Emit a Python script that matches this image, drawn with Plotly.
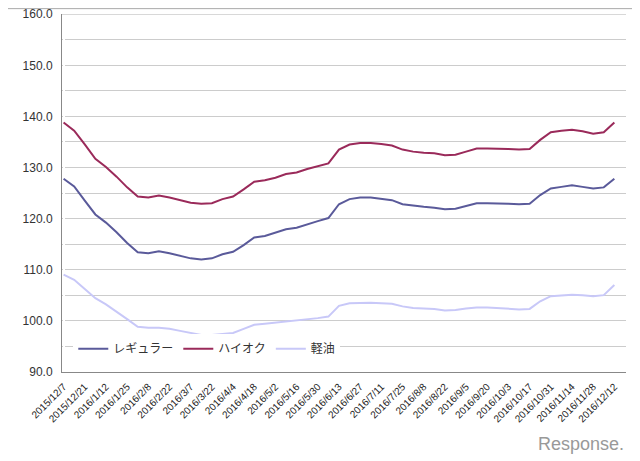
import plotly.graph_objects as go

labels = ["2015/12/7","2015/12/21","2016/1/12","2016/1/25","2016/2/8","2016/2/22","2016/3/7","2016/3/22",
          "2016/4/4","2016/4/18","2016/5/2","2016/5/16","2016/5/30","2016/6/13","2016/6/27","2016/7/11",
          "2016/7/25","2016/8/8","2016/8/22","2016/9/5","2016/9/20","2016/10/3","2016/10/17","2016/10/31",
          "2016/11/14","2016/11/28","2016/12/12"]

regular = [127.8,126.3,123.5,120.8,119.2,117.3,115.2,113.4,113.2,113.6,113.2,112.7,112.2,112.0,112.2,113.0,
           113.5,114.8,116.3,116.6,117.2,117.9,118.2,118.9,119.5,120.1,122.8,123.8,124.1,124.1,123.9,123.6,
           122.8,122.5,122.3,122.1,121.8,121.9,122.5,123.0,123.0,123.0,122.9,122.8,122.9,124.6,125.9,126.2,
           126.5,126.2,125.9,126.1,127.8]
highoctane = [138.8,137.2,134.5,131.7,130.1,128.2,126.1,124.3,124.1,124.5,124.1,123.6,123.1,122.9,123.0,123.8,
              124.3,125.7,127.2,127.5,128.0,128.7,129.0,129.7,130.2,130.8,133.5,134.5,134.8,134.8,134.6,134.3,
              133.5,133.1,132.9,132.8,132.4,132.5,133.1,133.7,133.7,133.7,133.6,133.5,133.6,135.4,136.9,137.2,
              137.4,137.1,136.6,136.9,138.8]
diesel = [109.0,108.0,106.2,104.4,103.2,101.8,100.3,98.8,98.6,98.6,98.4,98.0,97.6,97.2,97.2,97.4,97.6,98.4,
          99.2,99.4,99.6,99.9,100.0,100.3,100.5,100.8,102.9,103.4,103.5,103.5,103.4,103.3,102.8,102.5,102.4,
          102.3,102.0,102.1,102.4,102.6,102.6,102.5,102.3,102.2,102.3,103.8,104.8,104.9,105.1,105.0,104.8,
          105.0,107.0]

x = list(range(len(regular)))
tickvals = [2 * i for i in range(len(labels))]

fig = go.Figure()
for name, ys, col in [("レギュラー", regular, "#5A5A9A"), ("ハイオク", highoctane, "#9A2A5A"), ("軽油", diesel, "#C8C8F8")]:
    fig.add_trace(go.Scatter(x=x, y=ys, name=name, mode="lines", line=dict(color=col, width=2)))

fig.update_layout(
    width=640, height=461, paper_bgcolor="white", plot_bgcolor="white",
    margin=dict(l=54, r=22, t=6, b=97),
    font=dict(family="Liberation Sans, DejaVu Sans", size=12, color="#333"),
    legend=dict(orientation="h", x=0.02, y=0.065, xanchor="left", yanchor="middle",
                bgcolor="white", tracegroupgap=0, itemwidth=30,
                font=dict(size=12, family="Noto Sans CJK JP")),
    shapes=[dict(type="rect", xref="paper", yref="paper", x0=-0.106, x1=1.03, y0=-0.255, y1=1.015,
                 line=dict(color="#AAAAAA", width=1)),
            dict(type="line", xref="paper", yref="y", x0=0, x1=1, y0=160, y1=160,
                 line=dict(color="#CCCCCC", width=1))],
    annotations=[dict(text="Response.", xref="paper", yref="paper", x=1.0, y=-0.2, xanchor="right",
                      yanchor="middle", showarrow=False, font=dict(size=18, color="#999999"))],
)
fig.update_yaxes(range=[89.95, 160.05], tickvals=list(range(90, 161, 10)), tickformat=".1f",
                 gridcolor="#CCCCCC", showline=True, linecolor="#888888", ticks="outside", ticklen=6,
                 tickcolor="white", automargin=False, ticklabeloverflow="allow",
                 minor=dict(tickvals=list(range(95, 160, 10)), showgrid=True, gridcolor="#CCCCCC"), zeroline=False)
fig.update_xaxes(range=[-0.15, 53.1], tickvals=tickvals, ticktext=labels, tickangle=-45, automargin=False,
                 ticks="outside", ticklen=4, tickcolor="white", ticklabeloverflow="allow",
                 showgrid=False, showline=True, linecolor="#888888", tickfont=dict(size=10, color="#222"))
fig.write_html("out.html")
